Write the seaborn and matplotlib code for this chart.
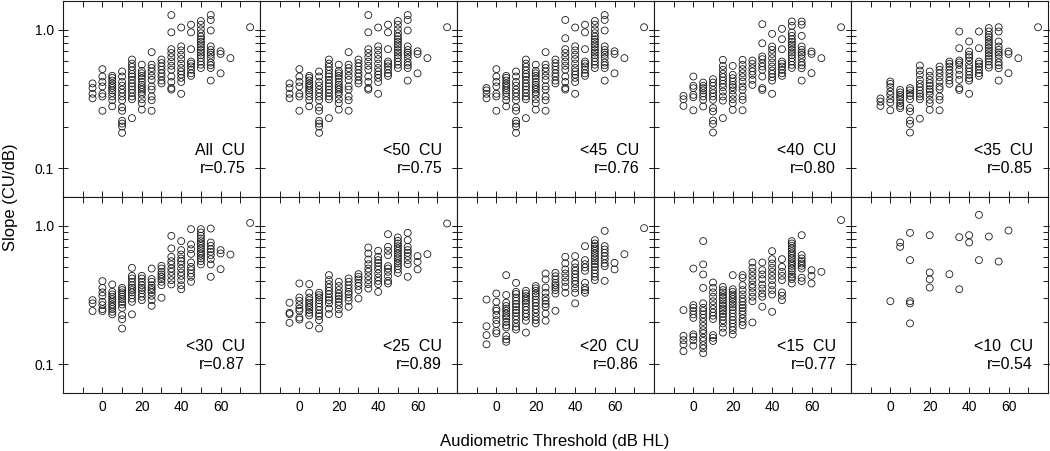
import matplotlib.pyplot as plt
import matplotlib.ticker as mticker
import seaborn as sns
import pandas as pd

# Slopes (CU/dB), keyed by audiometric threshold (dB HL)
all_cu = {
    -5: [0.41, 0.38, 0.345, 0.32],
    0: [0.52, 0.46, 0.42, 0.39, 0.345, 0.33, 0.26],
    5: [0.465, 0.45, 0.43, 0.41, 0.395, 0.38, 0.365, 0.35, 0.33, 0.31, 0.28],
    10: [0.50, 0.46, 0.42, 0.395, 0.37, 0.35, 0.33, 0.31, 0.275, 0.26, 0.22, 0.21, 0.20, 0.18],
    15: [0.61, 0.57, 0.54, 0.51, 0.48, 0.46, 0.435, 0.41, 0.39, 0.37, 0.35, 0.33, 0.315, 0.23],
    20: [0.56, 0.505, 0.485, 0.465, 0.445, 0.42, 0.40, 0.385, 0.37, 0.355, 0.34, 0.315, 0.295, 0.265],
    25: [0.69, 0.56, 0.53, 0.50, 0.465, 0.435, 0.39, 0.37, 0.33, 0.31, 0.26],
    30: [0.61, 0.575, 0.545, 0.515, 0.485, 0.46, 0.43, 0.41],
    35: [1.28, 0.96, 0.725, 0.68, 0.635, 0.59, 0.55, 0.515, 0.46, 0.42, 0.38, 0.37],
    40: [1.04, 0.76, 0.71, 0.66, 0.615, 0.57, 0.53, 0.50, 0.475, 0.45, 0.42, 0.345],
    45: [1.09, 0.96, 0.725, 0.59, 0.57, 0.545, 0.515, 0.485, 0.465],
    50: [1.16, 1.09, 1.01, 0.945, 0.895, 0.855, 0.82, 0.785, 0.75, 0.715, 0.685, 0.655, 0.625, 0.59, 0.56, 0.53],
    55: [1.28, 1.18, 0.99, 0.76, 0.715, 0.685, 0.66, 0.625, 0.58, 0.555, 0.53, 0.43],
    60: [0.70, 0.67, 0.485],
    65: [0.625],
    75: [1.045],
}

lt50 = dict(all_cu)

lt45 = {**all_cu,
        -5: [0.38, 0.365, 0.345, 0.32],
        35: [1.18, 0.87, 0.725, 0.68, 0.635, 0.59, 0.55, 0.515, 0.46, 0.42, 0.38, 0.37]}

lt40 = {
    -5: [0.333, 0.315, 0.282],
    0: [0.46, 0.394, 0.379, 0.339, 0.326, 0.262],
    5: [0.416, 0.394, 0.379, 0.365, 0.348, 0.33, 0.312, 0.279],
    10: [0.44, 0.416, 0.394, 0.368, 0.348, 0.33, 0.312, 0.272, 0.257, 0.221, 0.209, 0.181],
    15: [0.607, 0.549, 0.514, 0.481, 0.455, 0.43, 0.407, 0.385, 0.358, 0.33, 0.308, 0.23],
    20: [0.549, 0.473, 0.447, 0.423, 0.40, 0.385, 0.365, 0.339, 0.315, 0.295, 0.264],
    25: [0.607, 0.558, 0.52, 0.486, 0.455, 0.423, 0.389, 0.368, 0.33, 0.312, 0.262],
    30: [0.60, 0.568, 0.528, 0.50, 0.473, 0.435, 0.40],
    35: [1.10, 0.80, 0.642, 0.614, 0.574, 0.543, 0.514, 0.46, 0.379, 0.368],
    40: [0.936, 0.758, 0.717, 0.67, 0.624, 0.581, 0.543, 0.508, 0.481, 0.455, 0.43, 0.345],
    45: [1.017, 0.856, 0.725, 0.59, 0.568, 0.543, 0.514, 0.486, 0.465],
    50: [1.15, 1.07, 0.956, 0.905, 0.856, 0.819, 0.783, 0.749, 0.717, 0.686, 0.656, 0.624, 0.59, 0.558, 0.531],
    55: [1.15, 1.09, 0.905, 0.758, 0.717, 0.686, 0.66, 0.624, 0.581, 0.555, 0.528, 0.43],
    60: [0.697, 0.67, 0.486],
    65: [0.624],
    75: [1.045],
}

lt35 = {
    -5: [0.319, 0.303, 0.282],
    0: [0.423, 0.407, 0.385, 0.358, 0.339, 0.315, 0.298, 0.262],
    5: [0.368, 0.353, 0.339, 0.326, 0.312, 0.295, 0.282, 0.272],
    10: [0.379, 0.365, 0.348, 0.333, 0.315, 0.272, 0.257, 0.221, 0.209, 0.181],
    15: [0.552, 0.508, 0.473, 0.435, 0.407, 0.385, 0.365, 0.345, 0.33, 0.315, 0.228],
    20: [0.50, 0.465, 0.435, 0.412, 0.394, 0.372, 0.358, 0.339, 0.312, 0.295, 0.264],
    25: [0.543, 0.514, 0.486, 0.455, 0.423, 0.389, 0.372, 0.33, 0.312, 0.262],
    30: [0.59, 0.568, 0.543, 0.514, 0.486, 0.455, 0.43, 0.407],
    35: [0.973, 0.737, 0.60, 0.581, 0.558, 0.514, 0.473, 0.435, 0.379, 0.368],
    40: [0.824, 0.697, 0.66, 0.634, 0.60, 0.558, 0.528, 0.50, 0.473, 0.447, 0.43, 0.345],
    45: [0.973, 0.737, 0.59, 0.568, 0.543, 0.514, 0.486, 0.465],
    50: [1.03, 0.973, 0.92, 0.885, 0.847, 0.81, 0.775, 0.741, 0.709, 0.678, 0.649, 0.62, 0.59, 0.558, 0.534],
    55: [1.045, 0.973, 0.824, 0.758, 0.717, 0.686, 0.66, 0.624, 0.581, 0.555, 0.528, 0.43],
    60: [0.697, 0.67, 0.486],
    65: [0.624],
    75: [1.045],
}

lt30 = {
    -5: [0.29, 0.275, 0.242],
    0: [0.398, 0.356, 0.33, 0.312, 0.282, 0.267, 0.25, 0.242],
    5: [0.377, 0.333, 0.319, 0.307, 0.295, 0.282, 0.27, 0.26, 0.25, 0.239, 0.229],
    10: [0.356, 0.343, 0.33, 0.319, 0.307, 0.295, 0.282, 0.27, 0.255, 0.226, 0.211, 0.181],
    15: [0.497, 0.435, 0.416, 0.394, 0.372, 0.356, 0.343, 0.33, 0.315, 0.298, 0.282, 0.229],
    20: [0.435, 0.416, 0.394, 0.372, 0.356, 0.343, 0.324, 0.307, 0.29],
    25: [0.491, 0.412, 0.394, 0.372, 0.356, 0.343, 0.33, 0.312, 0.29, 0.264],
    30: [0.514, 0.491, 0.465, 0.445, 0.428, 0.412, 0.394, 0.372, 0.302],
    35: [0.847, 0.686, 0.597, 0.555, 0.526, 0.491, 0.465, 0.435, 0.405, 0.377],
    40: [0.775, 0.667, 0.62, 0.581, 0.555, 0.526, 0.491, 0.46, 0.435, 0.405, 0.372, 0.348],
    45: [0.946, 0.733, 0.678, 0.627, 0.543, 0.505, 0.478, 0.452, 0.428, 0.394],
    50: [0.946, 0.895, 0.847, 0.81, 0.775, 0.745, 0.717, 0.686, 0.656, 0.631, 0.607, 0.581, 0.555, 0.526],
    55: [0.956, 0.758, 0.717, 0.678, 0.649, 0.614, 0.574, 0.526, 0.428],
    60: [0.667, 0.631, 0.486],
    65: [0.62],
    75: [1.05],
}

lt25 = {
    -5: [0.278, 0.235, 0.23, 0.199],
    0: [0.383, 0.303, 0.287, 0.267, 0.252, 0.243, 0.217, 0.21],
    5: [0.379, 0.328, 0.303, 0.29, 0.278, 0.267, 0.257, 0.246, 0.235, 0.225, 0.191],
    10: [0.328, 0.315, 0.303, 0.29, 0.275, 0.26, 0.246, 0.232, 0.222, 0.208, 0.181],
    15: [0.44, 0.405, 0.379, 0.358, 0.339, 0.321, 0.303, 0.29, 0.275, 0.252, 0.23],
    20: [0.394, 0.367, 0.343, 0.324, 0.31, 0.296, 0.282, 0.267, 0.249, 0.23],
    25: [0.416, 0.394, 0.372, 0.352, 0.333, 0.321, 0.303, 0.287, 0.26],
    30: [0.447, 0.428, 0.41, 0.387, 0.367, 0.343, 0.298],
    35: [0.697, 0.631, 0.571, 0.528, 0.491, 0.465, 0.432, 0.405, 0.379, 0.352],
    40: [0.66, 0.597, 0.565, 0.54, 0.511, 0.484, 0.452, 0.423, 0.40, 0.379, 0.333],
    45: [0.87, 0.705, 0.66, 0.614, 0.511, 0.491, 0.465, 0.432, 0.40, 0.383],
    50: [0.824, 0.779, 0.745, 0.713, 0.686, 0.66, 0.631, 0.604, 0.581, 0.555, 0.534, 0.511, 0.484, 0.457],
    55: [0.89, 0.788, 0.705, 0.667, 0.638, 0.604, 0.565, 0.528, 0.428],
    60: [0.604, 0.549, 0.484],
    65: [0.624],
    75: [1.04],
}

lt20 = {
    -5: [0.293, 0.188, 0.162, 0.139],
    0: [0.324, 0.282, 0.252, 0.243, 0.226, 0.208, 0.195, 0.174, 0.167],
    5: [0.44, 0.316, 0.278, 0.263, 0.252, 0.243, 0.232, 0.222, 0.214, 0.202, 0.191, 0.184, 0.16, 0.151, 0.145],
    10: [0.387, 0.333, 0.321, 0.303, 0.287, 0.272, 0.26, 0.246, 0.235, 0.222, 0.21, 0.197, 0.186, 0.178],
    15: [0.339, 0.324, 0.31, 0.298, 0.287, 0.275, 0.26, 0.246, 0.232, 0.22, 0.206, 0.169],
    20: [0.367, 0.353, 0.339, 0.324, 0.31, 0.293, 0.278, 0.263, 0.249, 0.235, 0.22, 0.208, 0.197],
    25: [0.452, 0.41, 0.358, 0.328, 0.303, 0.287, 0.272, 0.26, 0.232, 0.206],
    30: [0.457, 0.432, 0.41, 0.387, 0.372, 0.358, 0.343, 0.324, 0.243],
    35: [0.597, 0.535, 0.484, 0.452, 0.423, 0.393, 0.362, 0.328],
    40: [0.604, 0.535, 0.50, 0.473, 0.447, 0.423, 0.40, 0.379, 0.353, 0.328, 0.275],
    45: [0.713, 0.565, 0.528, 0.50, 0.473, 0.387, 0.358, 0.343, 0.328],
    50: [0.788, 0.745, 0.713, 0.686, 0.66, 0.631, 0.604, 0.581, 0.555, 0.528, 0.505, 0.478, 0.452, 0.428, 0.405],
    55: [0.92, 0.713, 0.674, 0.638, 0.604, 0.571, 0.535, 0.511, 0.40],
    60: [0.54, 0.484],
    65: [0.624],
    75: [0.962],
}

lt15 = {
    -5: [0.246, 0.16, 0.149, 0.139, 0.124],
    0: [0.491, 0.267, 0.255, 0.242, 0.229, 0.216, 0.164, 0.158, 0.149, 0.136],
    5: [0.775, 0.526, 0.445, 0.356, 0.275, 0.255, 0.242, 0.229, 0.216, 0.202, 0.189, 0.176, 0.167,
        0.155, 0.147, 0.137, 0.13, 0.12],
    10: [0.389, 0.356, 0.33, 0.307, 0.285, 0.267, 0.25, 0.236, 0.224, 0.212, 0.162, 0.155, 0.147],
    15: [0.362, 0.343, 0.33, 0.315, 0.302, 0.289, 0.275, 0.264, 0.252, 0.242, 0.231, 0.22, 0.208,
         0.197, 0.183, 0.169],
    20: [0.44, 0.348, 0.333, 0.319, 0.307, 0.295, 0.282, 0.27, 0.258, 0.246, 0.233, 0.22, 0.208,
         0.197, 0.186, 0.176, 0.164],
    25: [0.44, 0.421, 0.372, 0.343, 0.319, 0.298, 0.282, 0.267, 0.255, 0.242, 0.229, 0.214, 0.202, 0.191],
    30: [0.543, 0.497, 0.465, 0.435, 0.405, 0.376, 0.356, 0.33, 0.307, 0.285, 0.20],
    35: [0.543, 0.478, 0.445, 0.412, 0.376, 0.352, 0.324, 0.307, 0.26],
    40: [0.656, 0.574, 0.534, 0.497, 0.465, 0.435, 0.405, 0.372, 0.343, 0.319, 0.239],
    45: [0.574, 0.505, 0.465, 0.435, 0.405, 0.33, 0.312, 0.29],
    50: [0.775, 0.745, 0.717, 0.686, 0.656, 0.631, 0.607, 0.581, 0.555, 0.534, 0.514, 0.491, 0.47,
         0.445, 0.428, 0.412, 0.383],
    55: [0.856, 0.614, 0.581, 0.555, 0.534, 0.514, 0.491, 0.421, 0.398],
    60: [0.478, 0.435, 0.383],
    65: [0.465],
    75: [1.10],
}

lt10 = {
    0: [0.285],
    5: [0.758, 0.705],
    10: [0.89, 0.565, 0.285, 0.275, 0.197],
    20: [0.856, 0.46, 0.41, 0.358],
    30: [0.447],
    35: [0.828, 0.348],
    40: [0.856, 0.758],
    45: [1.20, 0.565],
    50: [0.837],
    55: [0.552],
    60: [0.925],
}

panels = [all_cu, lt50, lt45, lt40, lt35, lt30, lt25, lt20, lt15, lt10]
cut_labels = ["All  CU", "<50  CU", "<45  CU", "<40  CU", "<35  CU",
              "<30  CU", "<25  CU", "<20  CU", "<15  CU", "<10  CU"]
r_values = ["0.75", "0.75", "0.76", "0.80", "0.85", "0.87", "0.89", "0.86", "0.77", "0.54"]

rows = []
for name, panel in zip(cut_labels, panels):
    for thr, slopes in panel.items():
        for s in slopes:
            rows.append((name, thr, s))
df = pd.DataFrame(rows, columns=["cut", "threshold", "slope"])

sns.set_style("ticks")
plt.rcParams["font.family"] = ["Liberation Sans", "DejaVu Sans"]
plt.rcParams["text.color"] = "black"
plt.rcParams["xtick.color"] = "0.1"
plt.rcParams["ytick.color"] = "0.1"
plt.rcParams["xtick.labelcolor"] = "black"
plt.rcParams["ytick.labelcolor"] = "black"

fig, axes = plt.subplots(2, 5, figsize=(10.5, 4.51), dpi=100, sharex=True, sharey=True)
fig.subplots_adjust(left=0.06, right=0.998, top=0.998, bottom=0.129, wspace=0, hspace=0)

for ax, name, r in zip(axes.flat, cut_labels, r_values):
    sns.scatterplot(data=df[df["cut"] == name], x="threshold", y="slope", ax=ax,
                    s=25, facecolors="none", edgecolor="0.1", linewidth=0.6)
    ax.set_xlabel("")
    ax.set_ylabel("")
    ax.text(0.925, 0.235, name, transform=ax.transAxes, ha="right", va="center", fontsize=11.5)
    ax.text(0.925, 0.143, f"r={r}", transform=ax.transAxes, ha="right", va="center", fontsize=11.5)
    for sp in ax.spines.values():
        sp.set_linewidth(0.8)
        sp.set_color("0.1")
    ax.tick_params(axis="x", which="both", direction="in", length=4, width=0.7,
                   top=True, labelsize=10, pad=5)
    ax.tick_params(axis="y", which="major", direction="inout", length=7, width=0.7,
                   right=True, labelsize=10, pad=3)
    ax.tick_params(axis="y", which="minor", direction="in", length=3.5, width=0.7, right=True)

ax0 = axes[0, 0]
ax0.set_yscale("log")
ax0.set_ylim(0.062, 1.62)
ax0.set_xlim(-20, 80)
ax0.xaxis.set_major_locator(mticker.FixedLocator([0, 20, 40, 60]))
ax0.xaxis.set_minor_locator(mticker.FixedLocator([-10, 10, 30, 50, 70]))
ax0.yaxis.set_major_locator(mticker.FixedLocator([0.1, 1.0]))
ax0.yaxis.set_major_formatter(mticker.FixedFormatter(["0.1", "1.0"]))
ax0.yaxis.set_minor_locator(mticker.FixedLocator([0.2, 0.3, 0.4, 0.5, 0.6, 0.7, 0.8, 0.9]))
ax0.yaxis.set_minor_formatter(mticker.NullFormatter())

fig.text(0.528, 0.022, "Audiometric Threshold (dB HL)", ha="center", va="center", fontsize=12)
fig.text(0.010, 0.563, "Slope (CU/dB)", ha="center", va="center", rotation=90, fontsize=12)

fig.savefig("out.png", dpi=100)
